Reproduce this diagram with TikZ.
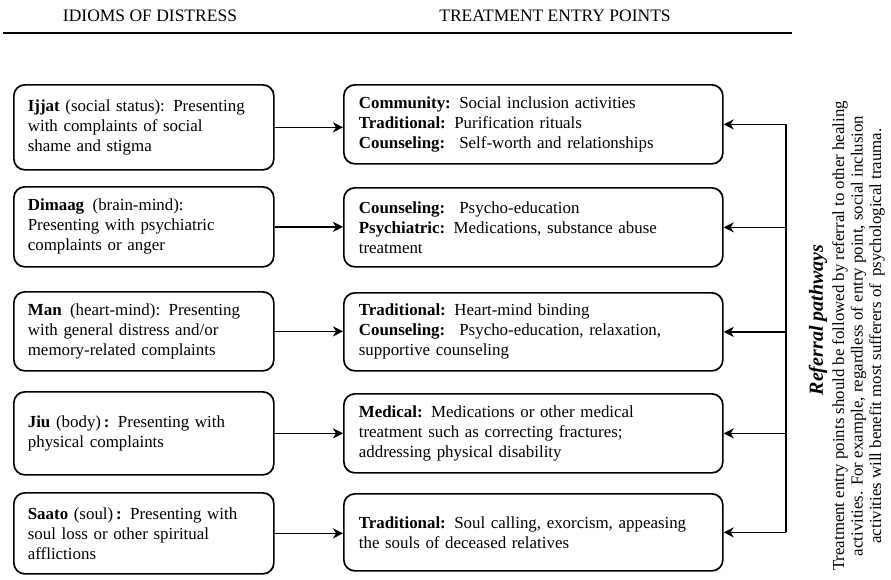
\documentclass[tikz,border=0pt]{standalone}
\usepackage{fontspec}
\setmainfont{Liberation Serif}
\usetikzlibrary{arrows.meta}
\begin{document}
\begin{tikzpicture}[x=1pt,y=-1pt,
  box/.style={draw, line width=1.7pt, rounded corners=11pt, inner xsep=14pt, inner ysep=0pt,
    align=left, anchor=north west, font=\fontsize{16.9}{20}\selectfont},
  lbox/.style={box, text width=232pt, minimum width=260pt},
  rbox/.style={box, text width=349pt, minimum width=379pt},
  arr/.style={line width=1.7pt, -{Stealth[length=10pt,width=10pt,inset=3pt]}},
  head/.style={font=\fontsize{17.5}{20}\selectfont, inner sep=0pt}]
\useasboundingbox (0,0) rectangle (891,579);

% headings
\node[head] (h1) at (150,15.5) {IDIOMS OF DISTRESS};
\node[head] (h2) at (555,15.5) {TREATMENT ENTRY POINTS};
\coordinate (ruleL) at (3,33);
\coordinate (ruleR) at (792,33);
\draw[line width=2.8pt] (ruleL) -- (ruleR);

% left boxes
\node[lbox, minimum height=85pt] (L1) at (13,84) {\textbf{Ijjat} (social status): Presenting\\with complaints of social\\shame and stigma};
\node[lbox, minimum height=80pt] (L2) at (13,186) {\textbf{Dimaag}\enspace(brain-mind):\\Presenting with psychiatric\\complaints or anger};
\node[lbox, minimum height=79pt] (L3) at (13,291) {\textbf{Man}\enspace(heart-mind): Presenting\\with general distress and/or\\memory-related complaints};
\node[lbox, minimum height=83pt] (L4) at (13,391) {\textbf{Jiu} (body)\,\textbf{:} Presenting with\\physical complaints};
\node[lbox, minimum height=81pt] (L5) at (13,492) {\textbf{Saato} (soul)\,\textbf{:}\enspace Presenting with\\soul loss or other spiritual\\afflictions};

% right boxes
\node[rbox, minimum height=79pt] (R1) at (343,84) {\textbf{Community:}\enspace Social inclusion activities\\\textbf{Traditional:}\enspace Purification rituals\\\textbf{Counseling:}\enspace\ Self-worth and relationships};
\node[rbox, minimum height=79pt] (R2) at (343,187) {\textbf{Counseling:}\enspace\ Psycho-education\\\textbf{Psychiatric:}\enspace Medications, substance abuse\\treatment};
\node[rbox, minimum height=78pt] (R3) at (343,292) {\textbf{Traditional:}\enspace Heart-mind binding\\\textbf{Counseling:}\enspace\ Psycho-education, relaxation,\\supportive counseling};
\node[rbox, minimum height=79pt] (R4) at (343,393) {\textbf{Medical:}\enspace Medications or other medical\\treatment such as correcting fractures;\\addressing physical disability};
\node[rbox, minimum height=77pt] (R5) at (343,493) {\textbf{Traditional:}\enspace Soul calling, exorcism, appeasing\\the souls of deceased relatives};

% entry arrows
\foreach \i in {1,...,5} {
  \draw[arr] (L\i.east) -- (L\i.east -| R\i.west);
}

% referral pathways
\coordinate (v) at (786,0);
\draw[line width=1.7pt] (R1.east -| v) -- (R5.east -| v);
\foreach \i in {1,...,5} {
  \draw[arr] (R\i.east -| v) -- (R\i.east);
}

\node[rotate=90, inner sep=0pt, font=\fontsize{20}{22}\selectfont\bfseries\itshape] (rp) at (818,320) {Referral pathways};
\node[rotate=90, inner sep=0pt, align=center, font=\fontsize{16.8}{18.5}\selectfont] (rt) at (858.5,336)
  {Treatment entry points should be followed by referral to other healing\\activities. For example, regardless of entry point, social inclusion\\activities will benefit most sufferers of\, psychological trauma.};
\end{tikzpicture}
\end{document}
